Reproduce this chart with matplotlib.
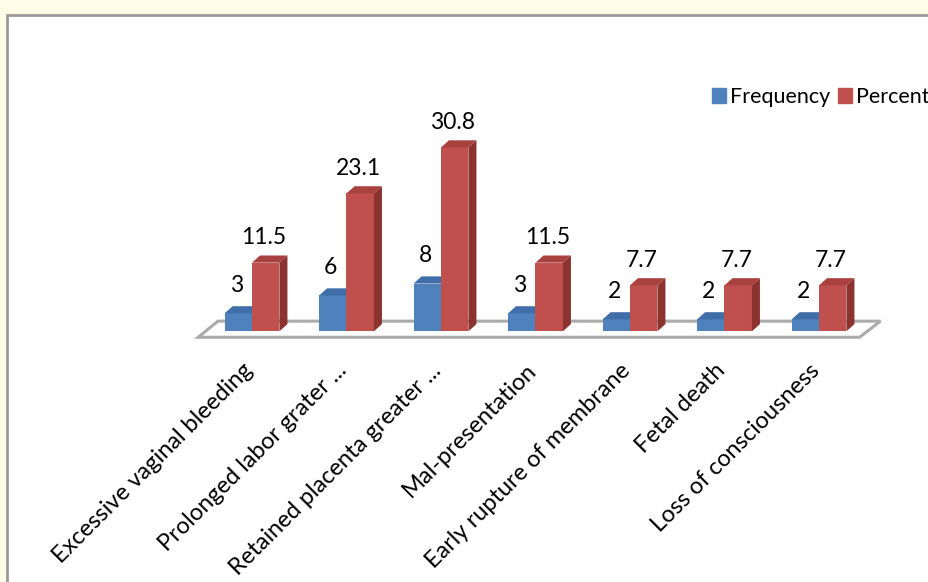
import matplotlib.pyplot as plt
from matplotlib.patches import Polygon, Rectangle, Patch

categories = ["Excessive vaginal bleeding", "Prolonged labor grater ...",
              "Retained placenta greater ...", "Mal-presentation",
              "Early rupture of membrane", "Fetal death", "Loss of consciousness"]
frequency = [3, 6, 8, 3, 2, 2, 2]
percent = [11.5, 23.1, 30.8, 11.5, 7.7, 7.7, 7.7]

plt.rcParams['font.family'] = ['Lato', 'DejaVu Sans']

BLUE = ("#4f81bd", "#3f6ea8", "#375f91")   # front, top, side
RED = ("#c0504d", "#a9423f", "#8c3331")

W = 929 / 100
H = 582 / 100
fig = plt.figure(figsize=(W, H), dpi=100, facecolor="#fffde8")

# white chart area with grey frame (runs off right/bottom edges)
fig.patches.append(Rectangle((7 / 929, -0.05), 1.2, 1 - 15 / 582 + 0.05,
                             transform=fig.transFigure, facecolor="white",
                             edgecolor="#9a9a9a", lw=2, zorder=-5))

ax = fig.add_axes([0, 0, 1, 1])
ax.set_facecolor("none")
ax.set_xlim(-252 / 94.5, (929 - 252) / 94.5)
ax.set_ylim(-42, 55.5)
ax.axis("off")

bw = 0.29      # bar width
dx = 0.085     # depth offset, x
dy = 1.2       # depth offset, y

# floor
n = len(categories)
floor = Polygon([(-0.57, -1.0), (n - 0.57, -1.0), (n - 0.35, 1.7), (-0.36, 1.7)],
                closed=True, facecolor="white", edgecolor="#ababab", lw=2.2, zorder=1)
ax.add_patch(floor)


def bar3d(x0, v, colors):
    front, top, side = colors
    ax.bar(x0, v, width=bw, align="edge", color=front, zorder=3)
    ax.add_patch(Polygon([(x0, v), (x0 + dx, v + dy), (x0 + bw + dx, v + dy), (x0 + bw, v)],
                         closed=True, facecolor=top, edgecolor="none", zorder=3))
    ax.add_patch(Polygon([(x0 + bw, 0), (x0 + bw + dx, dy), (x0 + bw + dx, v + dy), (x0 + bw, v)],
                         closed=True, facecolor=side, edgecolor="none", zorder=3))


for i in range(n):
    bar3d(i - bw, frequency[i], BLUE)
    bar3d(i, percent[i], RED)
    ax.annotate(str(frequency[i]), (i - bw / 2 - 0.02, frequency[i] + dy),
                xytext=(0, 15), textcoords="offset points", ha="center", va="center",
                fontsize=16.5)
    ax.annotate(f"{percent[i]:.1f}", (i + bw / 2 - 0.02, percent[i] + dy),
                xytext=(0, 13), textcoords="offset points", ha="center", va="center",
                fontsize=16.5)
    ax.text(i - 0.03, -6.0, categories[i], rotation=45, rotation_mode="anchor",
            ha="right", va="center", fontsize=17)

handles = [Patch(color=BLUE[0], label="Frequency"), Patch(color=RED[0], label="Percent")]
fig.legend(handles=handles, loc="center left", bbox_to_anchor=(703 / 929, 1 - 97 / 582),
           ncol=2, frameon=False, fontsize=15.5, handlelength=0.65, handleheight=0.65,
           handletextpad=0.2, columnspacing=0.35, borderaxespad=0)

fig.savefig("out.png", dpi=100, facecolor=fig.get_facecolor())
